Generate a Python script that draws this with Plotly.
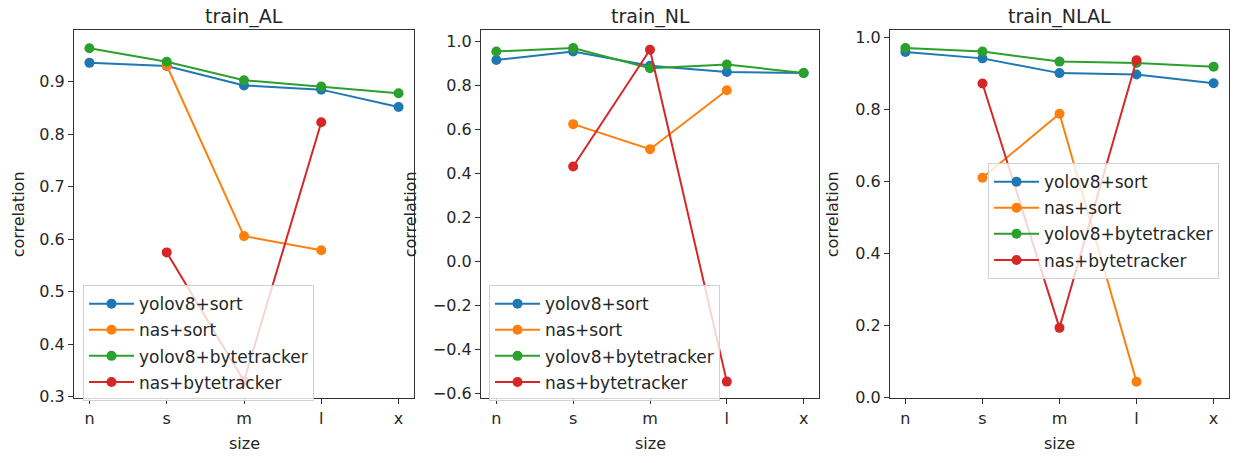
import plotly.graph_objects as go

# Model sizes on the x axis
sizes = ["n", "s", "m", "l", "x"]
series_names = ["yolov8+sort", "nas+sort", "yolov8+bytetracker", "nas+bytetracker"]
colors = ["#1f77b4", "#ff7f0e", "#2ca02c", "#d62728"]

# train_AL correlations
al_yolov8_sort = [0.936, 0.930, 0.893, 0.885, 0.852]
al_nas_sort = [None, 0.931, 0.606, 0.579, None]
al_yolov8_byte = [0.964, 0.938, 0.903, 0.891, 0.878]
al_nas_byte = [None, 0.575, 0.330, 0.823, None]

# train_NL correlations
nl_yolov8_sort = [0.914, 0.953, 0.888, 0.860, 0.855]
nl_nas_sort = [None, 0.623, 0.509, 0.777, None]
nl_yolov8_byte = [0.953, 0.969, 0.877, 0.894, 0.855]
nl_nas_byte = [None, 0.431, 0.961, -0.546, None]

# train_NLAL correlations
nlal_yolov8_sort = [0.961, 0.943, 0.902, 0.898, 0.874]
nlal_nas_sort = [None, 0.611, 0.789, 0.044, None]
nlal_yolov8_byte = [0.972, 0.962, 0.934, 0.930, 0.920]
nlal_nas_byte = [None, 0.873, 0.194, 0.938, None]

panel_titles = ["train_AL", "train_NL", "train_NLAL"]
panels = [
    [al_yolov8_sort, al_nas_sort, al_yolov8_byte, al_nas_byte],
    [nl_yolov8_sort, nl_nas_sort, nl_yolov8_byte, nl_nas_byte],
    [nlal_yolov8_sort, nlal_nas_sort, nlal_yolov8_byte, nlal_nas_byte],
]

W, H = 1239, 463
FONT = "DejaVu Sans"
TXT = "#262626"

# Pixel geometry of each axes box
x_px = [(74, 414), (481, 819), (890, 1229)]
y_px = (29, 406)
y_dom = [1 - y_px[1] / H, 1 - y_px[0] / H]
y_ranges = [[0.297, 0.998], [-0.622, 1.049], [-0.002, 1.021]]
y_ticks = [
    [0.3, 0.4, 0.5, 0.6, 0.7, 0.8, 0.9],
    [-0.6, -0.4, -0.2, 0.0, 0.2, 0.4, 0.6, 0.8, 1.0],
    [0.0, 0.2, 0.4, 0.6, 0.8, 1.0],
]
legend_pos = [(83, 290), (489, 290), (988, 165)]
ylabel_x = [18, 410, 832]

fig = go.Figure()
layout = dict(
    width=W, height=H,
    margin=dict(l=0, r=0, t=0, b=0),
    paper_bgcolor="white", plot_bgcolor="white",
    font=dict(family=FONT, size=16, color=TXT),
    showlegend=True,
)
annotations = []

for i, (vals, title) in enumerate(zip(panels, panel_titles)):
    xa = "x" if i == 0 else f"x{i+1}"
    ya = "y" if i == 0 else f"y{i+1}"
    lg = "legend" if i == 0 else f"legend{i+1}"
    for name, col, ys in zip(series_names, colors, vals):
        fig.add_trace(go.Scatter(
            x=sizes, y=ys, name=name, mode="lines+markers",
            line=dict(color=col, width=2),
            marker=dict(color=col, size=10),
            xaxis=xa, yaxis=ya, legend=lg,
            legendgroup=f"{lg}-{name}",
            connectgaps=False,
        ))

    axis_common = dict(
        showline=True, mirror=True, linecolor="#333333", linewidth=1.2,
        ticks="outside", ticklen=5, tickwidth=1.2, tickcolor="#333333",
        showgrid=False, zeroline=False,
        tickfont=dict(family=FONT, size=16, color=TXT),
    )
    x0, x1 = x_px[i]
    layout[f"xaxis{'' if i == 0 else i+1}"] = dict(
        axis_common, domain=[x0 / W, x1 / W], anchor=ya,
        type="category", categoryorder="array", categoryarray=sizes,
        range=[-0.2, 4.2],
    )
    layout[f"yaxis{'' if i == 0 else i+1}"] = dict(
        axis_common, domain=y_dom, anchor=xa,
        range=y_ranges[i], tickvals=y_ticks[i], tickformat=".1f",
    )
    lx, ly = legend_pos[i]
    layout[lg] = dict(
        x=lx / W, y=1 - ly / H, xanchor="left", yanchor="top",
        bgcolor="rgba(255,255,255,0.8)", bordercolor="#d0d0d0", borderwidth=1,
        font=dict(family=FONT, size=17, color=TXT),
        traceorder="grouped", tracegroupgap=1, itemwidth=45,
    )
    cx = (x0 + x1) / 2 / W
    annotations.append(dict(
        text=title, x=cx, y=1 - 15 / H, xref="paper", yref="paper",
        xanchor="center", yanchor="middle", showarrow=False,
        font=dict(family=FONT, size=19, color=TXT),
    ))
    annotations.append(dict(
        text="size", x=cx, y=1 - 452 / H, xref="paper", yref="paper",
        xanchor="center", yanchor="middle", showarrow=False,
        font=dict(family=FONT, size=16, color=TXT),
    ))
    annotations.append(dict(
        text="correlation", x=ylabel_x[i] / W, y=(y_dom[0] + y_dom[1]) / 2,
        xref="paper", yref="paper", textangle=-90,
        xanchor="center", yanchor="middle", showarrow=False,
        font=dict(family=FONT, size=16, color=TXT),
    ))

layout["annotations"] = annotations
fig.update_layout(**layout)
fig.write_html("out.html")
